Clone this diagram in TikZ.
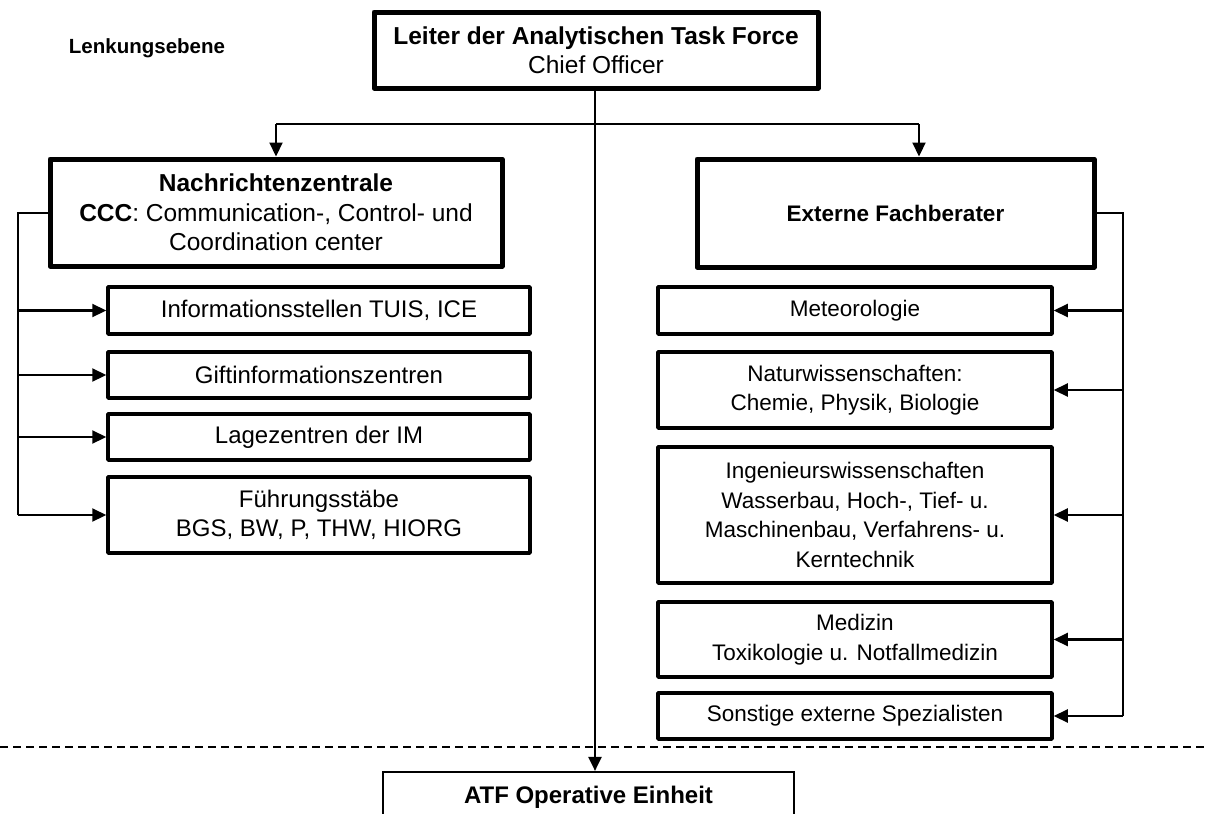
\documentclass[tikz,border=0pt]{standalone}
\usepackage{fontspec}
\setmainfont{Liberation Sans}
\usetikzlibrary{arrows.meta}
\tikzset{
  thickbox/.style={draw, line width=5pt, line join=round, align=center, inner sep=0pt, font=\fontsize{24.5}{29.5}\selectfont},
  subbox/.style={draw, line width=3.5pt, line join=round, align=center, inner sep=0pt, font=\fontsize{24}{29.5}\selectfont},
  subboxr/.style={subbox, font=\fontsize{22.5}{29.5}\selectfont},
  thinbox/.style={draw, line width=2.2pt, align=center, inner sep=0pt, font=\fontsize{24}{29}\selectfont},
  conn/.style={line width=2.2pt},
  arr/.style={line width=2.2pt, -{Triangle[length=14pt,width=13pt]}},
  lbl/.style={font=\fontsize{20.5}{24}\selectfont\bfseries}
}
\begin{document}
\begin{tikzpicture}[x=1pt,y=-1pt]
\clip (0,0) rectangle (1208,814);
\fill[white] (0,0) rectangle (1208,814);

% top
\node[thickbox, minimum width=444pt, minimum height=76pt] (top) at (596,50)
  {\textbf{Leiter der Analytischen Task Force}\\Chief Officer};
\node[lbl] (lenk) at (147,48) {Lenkungsebene};

% big boxes
\node[thickbox, minimum width=452pt, minimum height=107pt] (nz) at (276,212.5)
  {\textbf{Nachrichtenzentrale}\\\textbf{CCC}: Communication-, Control- und\\Coordination center};
\node[thickbox, font=\fontsize{22.5}{29.5}\selectfont, minimum width=397pt, minimum height=108pt] (ef) at (895.5,213)
  {\textbf{Externe Fachberater}};

% left sub boxes
\node[subbox, minimum width=422pt, minimum height=47pt] (info) at (319,310.5) {Informationsstellen TUIS, ICE};
\node[subbox, minimum width=422pt, minimum height=46pt] (gift) at (319,375) {Giftinformationszentren};
\node[subbox, minimum width=422pt, minimum height=46pt] (lage) at (319,437) {Lagezentren der IM};
\node[subbox, minimum width=422pt, minimum height=76pt] (fuehr) at (319,515) {Führungsstäbe\\BGS, BW, P, THW, HIORG};

% right sub boxes
\node[subboxr, minimum width=394pt, minimum height=47pt] (met) at (855,310.5) {Meteorologie};
\node[subboxr, minimum width=394pt, minimum height=76pt] (nat) at (855,390) {Naturwissenschaften:\\Chemie, Physik, Biologie};
\node[subboxr, minimum width=394pt, minimum height=136pt] (ing) at (855,515) {Ingenieurswissenschaften\\Wasserbau, Hoch-, Tief- u.\\Maschinenbau, Verfahrens- u.\\Kerntechnik};
\node[subboxr, minimum width=394pt, minimum height=75pt] (med) at (855,639.5) {Medizin\\Toxikologie u. Notfallmedizin};
\node[subboxr, minimum width=394pt, minimum height=46pt] (son) at (855,716) {Sonstige externe Spezialisten};

% bottom box
\node[thinbox, minimum width=411pt, minimum height=50pt] (atf) at (588.5,797) {\textbf{ATF Operative Einheit}};

% dashed separator
\coordinate (dl) at (0,747);
\coordinate (dr) at (1208,747);
\draw[line width=2.2pt, dash pattern=on 8pt off 5pt] (dl) -- (dr);

% top connectors
\coordinate (j) at (595,124);
\coordinate (rj) at (919,124);
\draw[conn] (top.south -| j) -- (j);
\draw[arr] (j) -- (atf.north -| j);
\draw[conn] (nz.north |- j) -- (rj);
\draw[arr] (nz.north |- j) -- (nz.north);
\draw[arr] (rj) -- (rj |- ef.north);

% left connectors
\coordinate (lb) at (18,213);
\draw[conn] (nz.west |- lb) -- (lb) -- (lb |- fuehr.west);
\draw[arr] (lb |- info.west) -- (info.west);
\draw[arr] (lb |- gift.west) -- (gift.west);
\draw[arr] (lb |- lage.west) -- (lage.west);
\draw[arr] (lb |- fuehr.west) -- (fuehr.west);

% right connectors
\coordinate (rb) at (1123,213);
\draw[conn] (ef.east |- rb) -- (rb) -- (rb |- son.east);
\draw[arr] (rb |- met.east) -- (met.east);
\draw[arr] (rb |- nat.east) -- (nat.east);
\draw[arr] (rb |- ing.east) -- (ing.east);
\draw[arr] (rb |- med.east) -- (med.east);
\draw[arr] (rb |- son.east) -- (son.east);
\end{tikzpicture}
\end{document}
